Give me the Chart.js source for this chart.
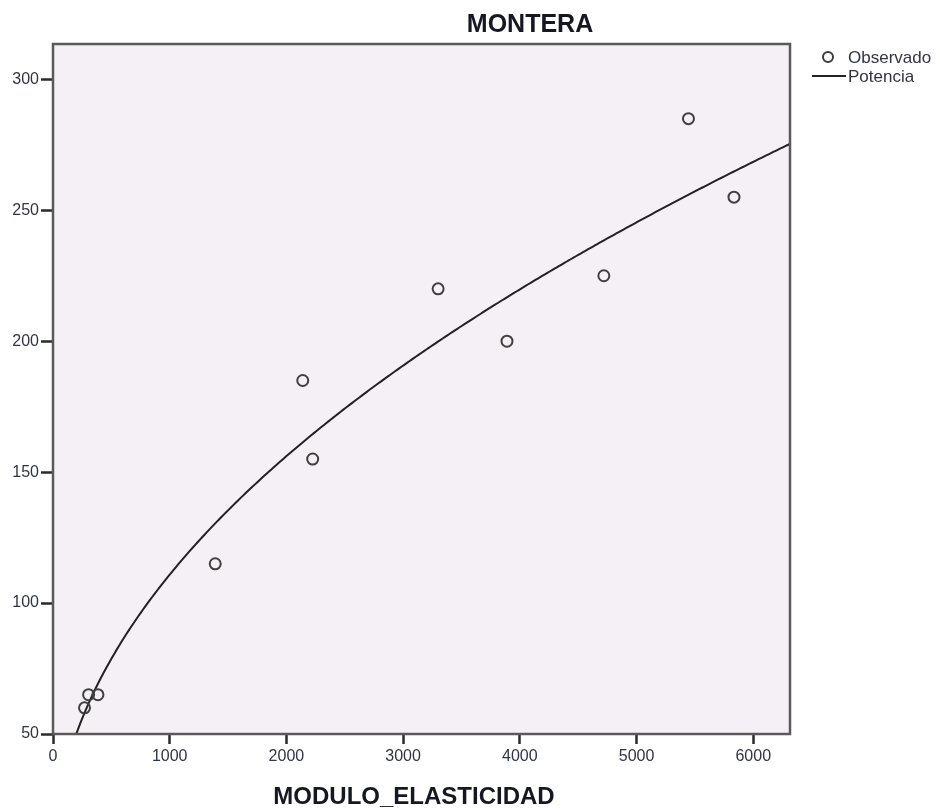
<!DOCTYPE html>
<html>
<head>
<meta charset="utf-8">
<script src="https://cdn.jsdelivr.net/npm/chart.js@4.4.1/dist/chart.umd.min.js"></script>
<style>
  html, body { margin: 0; padding: 0; background: #ffffff; }
  #wrap { width: 940px; height: 809px; }
</style>
</head>
<body>
<div id="wrap"><canvas id="c" width="940" height="809"></canvas></div>
<script>
// Observed samples: elastic modulus vs. strength (MONTERA)
const moduloElasticidad = [270, 305, 385, 1390, 2140, 2225, 3300, 3890, 4720, 5445, 5835];
const resistencia       = [60, 65, 65, 115, 185, 155, 220, 200, 225, 285, 255];

const xTicks = [0, 1000, 2000, 3000, 4000, 5000, 6000];
const yTicks = [50, 100, 150, 200, 250, 300];

const chartTitle = 'MONTERA';
const xTitle = 'MODULO_ELASTICIDAD';
const legendLabels = ['Observado', 'Potencia'];

const X_MIN = 0, X_MAX = 6315;
const Y_MIN = 50, Y_MAX = 313.5;

// Power model y = a * x^b, least squares on log-log
function fitPower(xs, ys) {
  const lx = xs.map(Math.log), ly = ys.map(Math.log);
  const n = xs.length;
  const mx = lx.reduce((s, v) => s + v, 0) / n;
  const my = ly.reduce((s, v) => s + v, 0) / n;
  let sxy = 0, sxx = 0;
  for (let i = 0; i < n; i++) {
    sxy += (lx[i] - mx) * (ly[i] - my);
    sxx += (lx[i] - mx) * (lx[i] - mx);
  }
  const b = sxy / sxx;
  const a = Math.exp(my - b * mx);
  return { a, b };
}
const fit = fitPower(moduloElasticidad, resistencia);
const xStart = Math.pow(Y_MIN / fit.a, 1 / fit.b);
const curve = [];
for (let i = 0; i <= 300; i++) {
  const x = xStart + (X_MAX - xStart) * i / 300;
  curve.push({ x, y: fit.a * Math.pow(x, fit.b) });
}

const observed = moduloElasticidad.map((x, i) => ({ x, y: resistencia[i] }));

const FONT = '"Liberation Sans", Arial, sans-serif';
const TEXT = '#30344a';

const framePlugin = {
  id: 'frame',
  beforeDraw(chart) {
    const { ctx, chartArea: a } = chart;
    ctx.save();
    ctx.fillStyle = '#ffffff';
    ctx.fillRect(0, 0, chart.width, chart.height);
    ctx.fillStyle = '#f5f0f5';
    ctx.fillRect(a.left, a.top, a.right - a.left, a.bottom - a.top);
    ctx.restore();
  },
  afterDraw(chart) {
    const { ctx, chartArea: a } = chart;
    ctx.save();
    ctx.strokeStyle = '#5a5a5a';
    ctx.lineWidth = 2.5;
    ctx.strokeRect(a.left, a.top, a.right - a.left, a.bottom - a.top);

    // titles
    ctx.fillStyle = '#151822';
    ctx.textAlign = 'center';
    ctx.textBaseline = 'middle';
    ctx.font = 'bold 25px ' + FONT;
    ctx.fillText(chartTitle, 530, 25);
    ctx.font = 'bold 24px ' + FONT;
    ctx.fillText(xTitle, 414, 797);

    // legend
    ctx.textAlign = 'left';
    ctx.font = '17px ' + FONT;
    ctx.fillStyle = TEXT;
    ctx.strokeStyle = '#3a3a3a';
    ctx.lineWidth = 2;
    ctx.beginPath();
    ctx.arc(828, 57, 5, 0, Math.PI * 2);
    ctx.stroke();
    ctx.fillText(legendLabels[0], 848, 58);
    ctx.strokeStyle = '#222222';
    ctx.beginPath();
    ctx.moveTo(812, 76);
    ctx.lineTo(846, 76);
    ctx.stroke();
    ctx.fillText(legendLabels[1], 848, 77);
    ctx.restore();
  }
};

new Chart(document.getElementById('c'), {
  type: 'scatter',
  data: {
    datasets: [
      {
        label: legendLabels[0],
        data: observed,
        pointRadius: 5.5,
        pointHoverRadius: 5.5,
        pointBorderWidth: 2,
        pointBorderColor: '#404040',
        pointBackgroundColor: 'rgba(0,0,0,0)',
        showLine: false,
        order: 1
      },
      {
        label: legendLabels[1],
        type: 'line',
        data: curve,
        borderColor: '#222222',
        borderWidth: 2,
        pointRadius: 0,
        fill: false,
        tension: 0,
        order: 2
      }
    ]
  },
  options: {
    responsive: false,
    animation: false,
    events: [],
    layout: { padding: { top: 44, right: 150, left: 0, bottom: 0 } },
    plugins: {
      legend: { display: false },
      title: { display: false },
      tooltip: { enabled: false }
    },
    scales: {
      x: {
        type: 'linear',
        min: X_MIN,
        max: X_MAX,
        afterBuildTicks(scale) { scale.ticks = xTicks.map(v => ({ value: v })); },
        afterFit(scale) { scale.height = 75; },
        border: { display: false },
        grid: { drawOnChartArea: false, drawTicks: true, tickLength: 10, tickColor: '#2a2a2a', tickWidth: 2.5 },
        ticks: {
          font: { family: FONT, size: 16 }, color: TEXT, padding: 3, maxRotation: 0,
          callback: v => String(v)
        }
      },
      y: {
        type: 'linear',
        min: Y_MIN,
        max: Y_MAX,
        afterBuildTicks(scale) { scale.ticks = yTicks.map(v => ({ value: v })); },
        afterFit(scale) { scale.width = 53; },
        border: { display: false },
        grid: { drawOnChartArea: false, drawTicks: true, tickLength: 12, tickColor: '#2a2a2a', tickWidth: 2.5 },
        ticks: {
          font: { family: FONT, size: 16 }, color: TEXT, padding: 2,
          callback: v => String(v)
        }
      }
    }
  },
  plugins: [framePlugin]
});
</script>
</body>
</html>
